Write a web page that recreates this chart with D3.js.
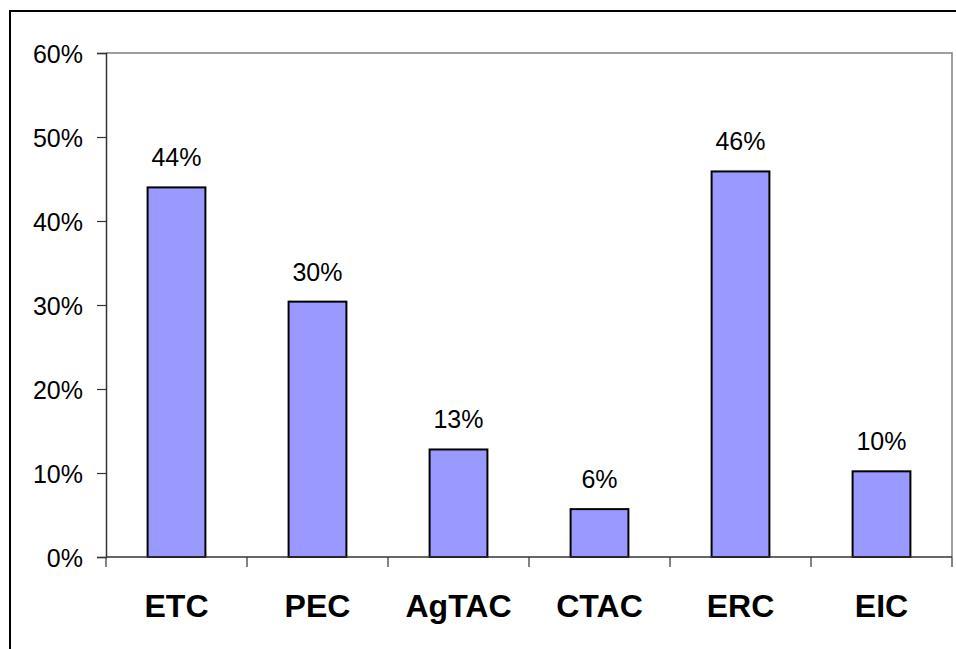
<!DOCTYPE html>
<html>
<head>
<meta charset="utf-8">
<script src="https://cdn.jsdelivr.net/npm/d3@7"></script>
<style>
  html, body { margin: 0; padding: 0; background: #fff; }
  svg { display: block; font-family: "Liberation Sans", Arial, Helvetica, sans-serif; }
</style>
</head>
<body>
<svg id="chart" width="956" height="649"></svg>
<script>
// Share of each category
const categories = ["ETC", "PEC", "AgTAC", "CTAC", "ERC", "EIC"];
const values = [44.0, 30.4, 12.8, 5.7, 45.9, 10.2];
const valueLabels = ["44%", "30%", "13%", "6%", "46%", "10%"];
const yTicks = [0, 10, 20, 30, 40, 50, 60];

const svg = d3.select("#chart");
const W = 956, H = 649;
const plot = { left: 106, right: 952, top: 53, bottom: 557 };

// Outer frame
svg.append("rect")
  .attr("x", 10).attr("y", 11)
  .attr("width", W + 20).attr("height", H + 20)
  .attr("fill", "#fff").attr("stroke", "#000").attr("stroke-width", 2);

const x = d3.scaleBand()
  .domain(categories)
  .range([plot.left, plot.right])
  .paddingInner(0.59).paddingOuter(0.295);

const xOuter = d3.scaleBand()
  .domain(categories)
  .range([plot.left, plot.right]);

const y = d3.scaleLinear().domain([0, 60]).range([plot.bottom, plot.top]);

// Plot area border (top and right)
svg.append("path")
  .attr("d", `M${plot.left},${plot.top}H${plot.right}V${plot.bottom}`)
  .attr("fill", "none").attr("stroke", "#808080").attr("stroke-width", 1.5);

// Y axis
const yAxis = d3.axisLeft(y)
  .tickValues(yTicks)
  .tickFormat(d => d + "%")
  .tickSize(9).tickPadding(14);
const gy = svg.append("g").attr("transform", `translate(${plot.left},0)`).call(yAxis);
gy.select(".domain").attr("stroke", "#333").attr("stroke-width", 1.5);
gy.selectAll(".tick line").attr("stroke", "#333").attr("stroke-width", 1.2);
gy.selectAll(".tick text")
  .attr("font-size", 25).attr("fill", "#000")
  .attr("font-family", "'Liberation Sans', Arial, sans-serif")
  .attr("dy", "0.36em");

// Bars
svg.append("g").selectAll("rect")
  .data(categories)
  .join("rect")
  .attr("x", d => x(d))
  .attr("y", (d, i) => y(values[i]))
  .attr("width", x.bandwidth())
  .attr("height", (d, i) => y(0) - y(values[i]))
  .attr("fill", "#9999ff")
  .attr("stroke", "#000").attr("stroke-width", 2);

// Value labels
svg.append("g").selectAll("text")
  .data(categories)
  .join("text")
  .attr("x", d => x(d) + x.bandwidth() / 2)
  .attr("y", (d, i) => y(values[i]) - 21)
  .attr("text-anchor", "middle")
  .attr("font-size", 25)
  .attr("fill", "#000")
  .text((d, i) => valueLabels[i]);

// X axis baseline with ticks at category boundaries
const gx = svg.append("g");
gx.append("line")
  .attr("x1", plot.left).attr("x2", plot.right)
  .attr("y1", y(0)).attr("y2", y(0))
  .attr("stroke", "#333").attr("stroke-width", 1.5);
const boundaries = categories.map(c => xOuter(c)).concat([plot.right]);
gx.selectAll("line.tick")
  .data(boundaries)
  .join("line")
  .attr("class", "tick")
  .attr("x1", d => d).attr("x2", d => d)
  .attr("y1", y(0)).attr("y2", y(0) + 10)
  .attr("stroke", "#333").attr("stroke-width", 1.2);

// Category labels
gx.selectAll("text")
  .data(categories)
  .join("text")
  .attr("x", d => xOuter(d) + xOuter.bandwidth() / 2)
  .attr("y", 617)
  .attr("text-anchor", "middle")
  .attr("font-size", 32)
  .attr("font-weight", "bold")
  .attr("fill", "#000")
  .text(d => d);
</script>
</body>
</html>
